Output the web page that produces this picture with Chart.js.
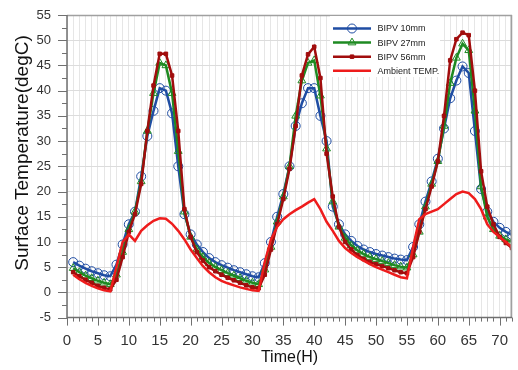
<!DOCTYPE html>
<html>
<head>
<meta charset="utf-8">
<script src="https://cdn.jsdelivr.net/npm/chart.js@4.4.1/dist/chart.umd.min.js"></script>
<style>
  html, body { margin: 0; padding: 0; background: #fff; }
  #wrap { width: 518px; height: 370px; }
</style>
</head>
<body>
<div id="wrap"><canvas id="chart" width="518" height="370"></canvas></div>
<script>
// hours 1..72
const hours = [
  1, 2, 3, 4, 5, 6, 7, 8, 9, 10, 11, 12, 13, 14, 15, 16, 17, 18, 19, 20, 21, 22, 23, 24,
  25, 26, 27, 28, 29, 30, 31, 32, 33, 34, 35, 36, 37, 38, 39, 40, 41, 42, 43, 44, 45, 46, 47, 48,
  49, 50, 51, 52, 53, 54, 55, 56, 57, 58, 59, 60, 61, 62, 63, 64, 65, 66, 67, 68, 69, 70, 71, 72
];

const bipv10 = [
  6.0, 5.3, 4.7, 4.2, 3.8, 3.4, 3.2, 5.5, 9.5, 13.5, 16.0, 23.0, 31.0, 36.0, 40.5, 40.0, 35.5, 25.0, 15.5, 11.5, 9.5, 8.0, 6.8, 6.0,
  5.4, 4.9, 4.4, 4.0, 3.6, 3.2, 3.0, 5.8, 10.0, 15.0, 19.5, 25.0, 33.0, 37.5, 40.5, 40.5, 35.0, 30.0, 17.0, 13.5, 11.5, 10.2, 9.2, 8.5,
  8.0, 7.6, 7.3, 7.0, 6.7, 6.5, 6.4, 9.0, 13.5, 18.0, 22.0, 26.5, 32.5, 38.5, 42.0, 44.8, 43.5, 32.0, 20.5, 16.0, 14.0, 12.8, 12.0, 11.4
];

const bipv27 = [
  4.8, 4.0, 3.3, 2.8, 2.3, 1.9, 1.6, 3.5, 8.0, 12.5, 16.0, 22.0, 32.0, 39.5, 45.5, 45.0, 39.5, 28.0, 16.0, 11.0, 8.5, 7.0, 5.8, 5.0,
  4.4, 3.8, 3.3, 2.8, 2.3, 1.9, 1.6, 4.5, 9.0, 14.0, 19.0, 25.0, 35.0, 42.0, 45.5, 46.0, 39.0, 28.5, 18.0, 13.0, 10.8, 9.3, 8.3, 7.6,
  7.0, 6.6, 6.2, 5.8, 5.4, 5.1, 4.9, 7.5, 12.0, 17.0, 21.5, 26.0, 33.0, 41.5, 46.5, 49.3, 48.0, 36.0, 21.0, 15.0, 12.5, 11.2, 10.5, 10.0
];

const bipv56 = [
  4.0, 3.2, 2.5, 1.9, 1.3, 0.9, 0.6, 2.5, 7.0, 12.0, 15.5, 21.5, 32.0, 41.0, 47.3, 47.3, 43.0, 32.0, 16.5, 11.0, 8.0, 6.3, 5.0, 4.2,
  3.5, 2.9, 2.4, 1.9, 1.4, 1.0, 0.8, 3.5, 8.5, 13.5, 18.5, 24.5, 33.0, 43.0, 47.2, 48.7, 42.5, 27.5, 19.0, 13.0, 10.0, 8.5, 7.4, 6.6,
  6.0, 5.6, 5.2, 4.8, 4.4, 4.0, 3.8, 7.0, 12.0, 16.5, 21.0, 26.0, 35.0, 46.0, 50.2, 51.5, 51.0, 40.0, 24.0, 17.0, 13.5, 11.0, 9.8, 8.8
];

const ambient = [
  3.5, 2.6, 1.9, 1.3, 0.8, 0.4, 0.2, 5.0, 10.0, 11.5, 10.2, 12.2, 13.3, 14.2, 14.7, 14.6, 13.6, 12.2, 10.5, 8.5, 6.8, 5.2, 4.0, 3.0,
  2.3, 1.8, 1.4, 1.0, 0.7, 0.4, 0.3, 6.0, 10.5, 13.0, 14.5, 15.5, 16.3, 17.0, 17.8, 18.5, 16.5, 14.0, 12.2, 10.2, 8.8, 7.8, 7.0, 6.3,
  5.6, 5.0, 4.5, 4.0, 3.5, 3.0, 2.8, 9.0, 14.5, 15.5, 16.0, 16.5, 17.5, 18.5, 19.5, 20.0, 19.7, 18.5, 16.5, 13.5, 12.0, 11.0, 10.0, 9.0
];

const seriesNames = ['BIPV 10mm', 'BIPV 27mm', 'BIPV 56mm', 'Ambient TEMP.'];
const yTitle = 'Surface Temperature(degC)';
const xTitle = 'Time(H)';

const FONT = '"Liberation Sans", Arial, sans-serif';

function toPoints(values) {
  return hours.map((h, i) => ({ x: h, y: values[i] }));
}

// axis tick marks, frame, y title and the in-plot legend
const decor = {
  id: 'decor',
  afterDraw(chart) {
    const { ctx, chartArea: a, scales: { x, y } } = chart;
    ctx.save();

    // frame
    ctx.strokeStyle = '#a0a0a0';
    ctx.lineWidth = 1.5;
    ctx.beginPath();
    ctx.moveTo(a.left, a.top + 0.5);
    ctx.lineTo(a.right - 0.75, a.top + 0.5);
    ctx.lineTo(a.right - 0.75, a.bottom);
    ctx.stroke();

    ctx.strokeStyle = '#707070';
    ctx.beginPath();
    ctx.moveTo(a.left, a.top);
    ctx.lineTo(a.left, a.bottom);
    ctx.lineTo(a.right, a.bottom);
    ctx.stroke();

    // tick marks
    ctx.lineWidth = 1;
    ctx.strokeStyle = '#707070';
    ctx.beginPath();
    for (let v = 0; v <= 72; v++) {
      const px = Math.round(x.getPixelForValue(v)) + 0.5;
      const len = v % 5 === 0 ? 8 : 4;
      ctx.moveTo(px, a.bottom);
      ctx.lineTo(px, a.bottom + len);
    }
    for (let v = -5; v <= 55; v += 2.5) {
      const py = Math.round(y.getPixelForValue(v)) + 0.5;
      const len = v % 5 === 0 ? 9 : 5;
      ctx.moveTo(a.left - len, py);
      ctx.lineTo(a.left, py);
    }
    ctx.stroke();

    // y title
    ctx.fillStyle = '#111';
    ctx.font = '19px ' + FONT;
    ctx.textAlign = 'center';
    ctx.textBaseline = 'middle';
    ctx.translate(23, 153);
    ctx.rotate(-Math.PI / 2);
    ctx.fillText(yTitle, 0, 0);
    ctx.restore();

    // legend
    ctx.save();
    const bx = a.right - 182, by = a.top + 1, bw = 110, bh = 61;
    ctx.fillStyle = '#fff';
    ctx.fillRect(bx, by, bw, bh);
    chart.data.datasets.forEach((ds, i) => {
      const ly = a.top + 13.5 + i * 14.1;
      ctx.strokeStyle = ds.borderColor;
      ctx.lineWidth = 2.5;
      ctx.beginPath();
      ctx.moveTo(bx + 3, ly);
      ctx.lineTo(bx + 41, ly);
      ctx.stroke();
      if (ds.pointRadius > 0) {
        ctx.fillStyle = ds.pointBackgroundColor;
        ctx.strokeStyle = ds.pointBorderColor;
        ctx.lineWidth = ds.pointBorderWidth;
        Chart.helpers.drawPoint(ctx, {
          pointStyle: ds.pointStyle,
          radius: ds.pointRadius,
          borderWidth: ds.pointBorderWidth
        }, bx + 22, ly);
      }
      ctx.fillStyle = '#222';
      ctx.font = '9px ' + FONT;
      ctx.textAlign = 'left';
      ctx.textBaseline = 'middle';
      ctx.fillText(ds.label, bx + 47.5, ly + 0.5);
    });
    ctx.restore();
  }
};

const ctx = document.getElementById('chart').getContext('2d');
new Chart(ctx, {
  type: 'line',
  data: {
    datasets: [
      {
        label: seriesNames[0],
        data: toPoints(bipv10),
        borderColor: '#1f4da3',
        borderWidth: 2.5,
        pointStyle: 'circle',
        pointRadius: 4.5,
        pointBorderWidth: 1,
        pointBorderColor: '#1f4da3',
        pointBackgroundColor: 'rgba(0,0,0,0)',
        order: 3
      },
      {
        label: seriesNames[1],
        data: toPoints(bipv27),
        borderColor: '#1e8a22',
        borderWidth: 2.5,
        pointStyle: 'triangle',
        pointRadius: 4.5,
        pointBorderWidth: 1,
        pointBorderColor: '#1e8a22',
        pointBackgroundColor: 'rgba(0,0,0,0)',
        order: 2
      },
      {
        label: seriesNames[2],
        data: toPoints(bipv56),
        borderColor: '#a10d0d',
        borderWidth: 2.5,
        pointStyle: 'rect',
        pointRadius: 2.5,
        pointBorderWidth: 1,
        pointBorderColor: '#a10d0d',
        pointBackgroundColor: '#a10d0d',
        order: 1
      },
      {
        label: seriesNames[3],
        data: toPoints(ambient),
        borderColor: '#ee1c1c',
        borderWidth: 2.5,
        pointRadius: 0,
        order: 0
      }
    ]
  },
  options: {
    responsive: false,
    animation: false,
    layout: { padding: { top: 15, right: 3, left: 0, bottom: 0 } },
    plugins: {
      legend: { display: false },
      tooltip: { enabled: false }
    },
    scales: {
      x: {
        type: 'linear',
        min: 0,
        max: 72,
        afterFit: (s) => { s.height = 52.4; },
        grid: { color: '#e6e6e6', lineWidth: 1, tickLength: 8, tickColor: 'rgba(0,0,0,0)' },
        border: { display: false },
        ticks: {
          stepSize: 1,
          autoSkip: false,
          maxRotation: 0,
          padding: 6,
          color: '#333',
          font: { family: FONT, size: 15 },
          callback: (v) => (v % 5 === 0 && v <= 70 ? String(v) : '')
        },
        title: {
          display: true,
          text: xTitle,
          color: '#111',
          font: { family: FONT, size: 16 },
          padding: { top: 0, bottom: 3 }
        }
      },
      y: {
        min: -5,
        max: 55,
        afterFit: (s) => { s.width = 67; },
        grid: { color: '#dcdcdc', lineWidth: 1, tickLength: 9, tickColor: 'rgba(0,0,0,0)' },
        border: { display: false },
        ticks: {
          stepSize: 5,
          padding: 7,
          color: '#333',
          font: { family: FONT, size: 13 }
        }
      }
    }
  },
  plugins: [decor]
});
</script>
</body>
</html>
